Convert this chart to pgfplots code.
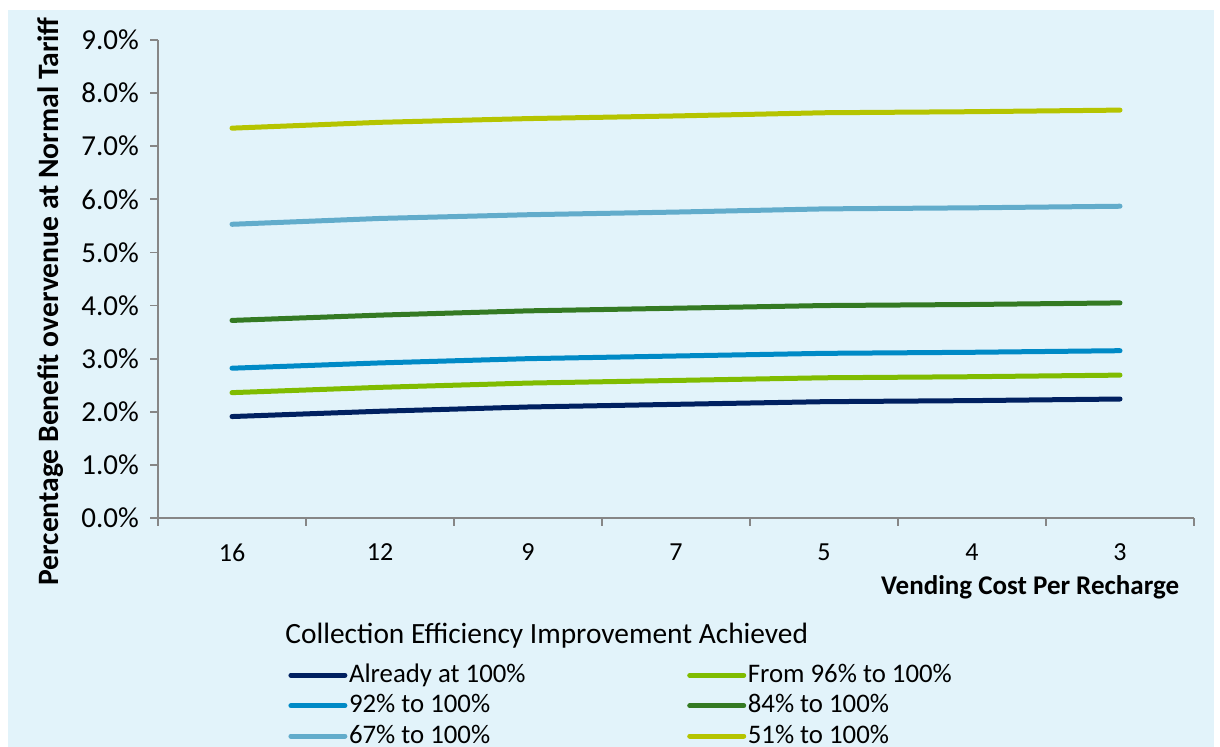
\documentclass[border=0pt]{standalone}
\usepackage{fontspec}
\setmainfont{Carlito}
\usepackage{pgfplots}
\pgfplotsset{compat=1.18}

\definecolor{bgblue}{RGB}{226,243,250}
\definecolor{axisgray}{RGB}{134,134,134}
\definecolor{cNavy}{RGB}{0,32,96}
\definecolor{cLime}{RGB}{128,188,0}
\definecolor{cBlue}{RGB}{0,138,198}
\definecolor{cGreen}{RGB}{52,122,35}
\definecolor{cSky}{RGB}{98,172,203}
\definecolor{cOlive}{RGB}{181,196,0}

% values in percent, x = category index (16,12,9,7,5,4,3)
\pgfplotstableread{
x already from96 p92 p84 p67 p51
0 1.91 2.36 2.82 3.72 5.53 7.34
1 2.01 2.46 2.92 3.82 5.64 7.45
2 2.09 2.54 3.00 3.90 5.71 7.52
3 2.14 2.59 3.05 3.95 5.76 7.57
4 2.19 2.64 3.10 4.00 5.82 7.63
5 2.21 2.66 3.12 4.02 5.84 7.65
6 2.24 2.69 3.15 4.05 5.87 7.68
}\datatable

\begin{document}
\begin{tikzpicture}[x=1pt,y=1pt]
\fill[white] (0,0) rectangle (610,373.5);
\fill[bgblue] (4,0) rectangle (607,368.5);
\path[use as bounding box] (0,0) rectangle (610,373.5);
\begin{axis}[
    at={(79pt,114.5pt)}, anchor=south west,
    scale only axis, width=518pt, height=239pt,
    xmin=-0.5, xmax=6.5, ymin=0, ymax=9,
    clip=false,
    axis lines*=left,
    axis line style={draw=axisgray, line width=0.9pt},
    tick align=outside,
    major tick length=4pt,
    tick style={draw=axisgray, line width=0.9pt},
    xtick={-0.5,0.5,...,6.5}, xticklabels={},
    extra x ticks={0,1,...,6},
    extra x tick labels={16,12,9,7,5,4,3},
    extra x tick style={major tick length=0pt},
    xticklabel style={yshift=-9.5pt, font=\fontsize{13}{15}\selectfont},
    ytick={0,1,...,9},
    yticklabel={\pgfmathprintnumber[fixed,fixed zerofill,precision=1]{\tick}\%},
    /pgf/number format/assume math mode=true,
    yticklabel style={xshift=-2pt, font=\fontsize{14.5}{16}\selectfont},
    xlabel={Vending Cost Per Recharge},
    xlabel style={at={(axis description cs:0.9925,-0.146)}, anchor=east, font=\bfseries\fontsize{13.5}{15}\selectfont},
    ylabel={Percentage Benefit overvenue at Normal Tariff},
    ylabel style={at={(axis description cs:-0.104,0.453)}, anchor=center, font=\bfseries\fontsize{14.8}{16}\selectfont},
    every axis plot/.append style={line width=2.5pt, line cap=round},
    legend columns=2,
    legend cell align=left,
    legend image code/.code={\draw[#1] (0pt,0pt) -- (27pt,0pt);},
    legend style={at={(axis description cs:0.1255,-0.301)}, anchor=north west,
        draw=none, fill=none, inner sep=0pt, row sep=2.2pt,
        font=\fontsize{13.4}{15}\selectfont,
        nodes={inner xsep=0.8pt, inner ysep=0pt, text height=10pt, text depth=3pt},
        /tikz/every even column/.append style={column sep=80pt}},
]
\addplot[cNavy] table[x=x, y=already] {\datatable};
\addlegendentry{Already at 100\%}
\addplot[cLime] table[x=x, y=from96] {\datatable};
\addlegendentry{From 96\% to 100\%}
\addplot[cBlue] table[x=x, y=p92] {\datatable};
\addlegendentry{92\% to 100\%}
\addplot[cGreen] table[x=x, y=p84] {\datatable};
\addlegendentry{84\% to 100\%}
\addplot[cSky] table[x=x, y=p67] {\datatable};
\addlegendentry{67\% to 100\%}
\addplot[cOlive] table[x=x, y=p51] {\datatable};
\addlegendentry{51\% to 100\%}
\node[anchor=west, inner sep=0pt, font=\fontsize{14.7}{16}\selectfont] at (axis description cs:0.1226,-0.2467) {Collection Efficiency Improvement Achieved};
\end{axis}
\end{tikzpicture}
\end{document}
